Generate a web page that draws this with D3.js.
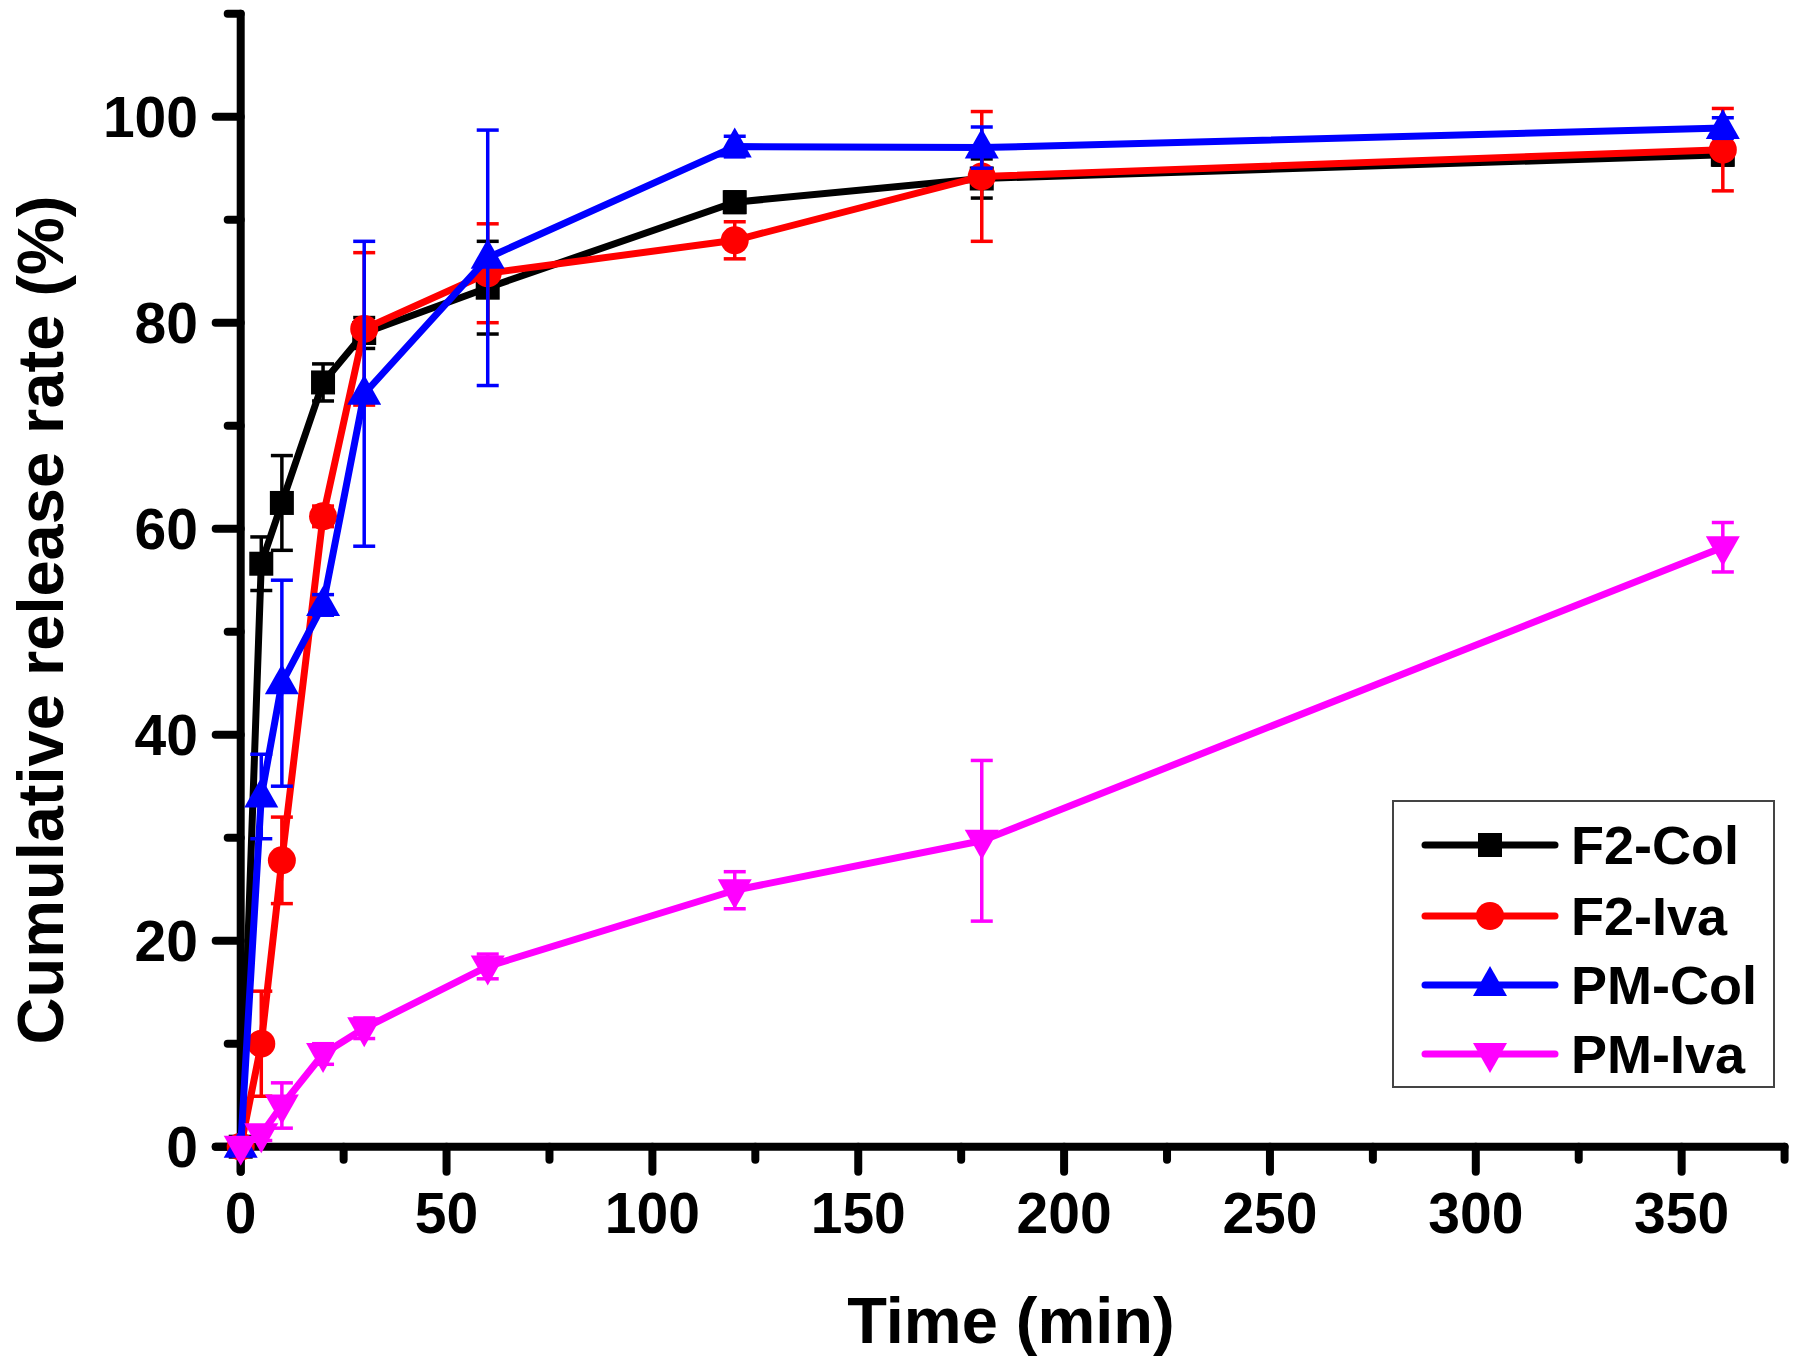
<!DOCTYPE html>
<html><head><meta charset="utf-8">
<script src="https://cdn.jsdelivr.net/npm/d3@7"></script>
<style>body{margin:0;background:#fff}svg{display:block}text{font-family:"Liberation Sans",Arial,sans-serif;font-weight:bold}</style>
</head><body>
<script>
const times = [0, 5, 10, 20, 30, 60, 120, 180, 360];
const seriesNames = ["F2-Col", "F2-Iva", "PM-Col", "PM-Iva"];
const f2Col = [0, 56.6, 62.5, 74.2, 79.0, 83.4, 91.7, 94.0, 96.3];
const f2ColErr = [0, 2.6, 4.6, 1.8, 1.5, 4.5, 1.0, 1.9, 1.0];
const f2Iva = [0, 10.0, 27.8, 61.2, 79.4, 84.8, 88.0, 94.2, 96.8];
const f2IvaErr = [0, 5.1, 4.2, 1.0, 7.4, 4.8, 1.8, 6.3, 4.0];
const pmCol = [0, 34.0, 45.0, 52.6, 73.1, 86.3, 97.1, 97.0, 98.9];
const pmColErr = [0, 4.1, 10.0, 1.0, 14.8, 12.4, 1.0, 2.0, 1.0];
const pmIva = [0, 1.2, 4.0, 9.0, 11.5, 17.5, 24.9, 29.7, 58.2];
const pmIvaErr = [0, 0.6, 2.2, 1.0, 1.0, 1.2, 1.8, 7.8, 2.4];
const xTicks = [0, 50, 100, 150, 200, 250, 300, 350];
const yTicks = [0, 20, 40, 60, 80, 100];

const W = 1800, H = 1367;
const svg = d3.select("body").append("svg").attr("width", W).attr("height", H);
const x = d3.scaleLinear().domain([0, 375]).range([240.7, 240.7 + 375 * 4.117]);
const y = d3.scaleLinear().domain([0, 110]).range([1146.7, 1146.7 - 110 * 10.3]);

const colors = ["#000000", "#ff0000", "#0000ff", "#ff00ff"];
const shapes = ["square", "circle", "up", "down"];
const vals = [f2Col, f2Iva, pmCol, pmIva];
const errs = [f2ColErr, f2IvaErr, pmColErr, pmIvaErr];

function marker(g, shape, cx, cy, color) {
  if (shape === "square") g.append("rect").attr("x", cx - 12).attr("y", cy - 12).attr("width", 24).attr("height", 24).attr("fill", color);
  else if (shape === "circle") g.append("circle").attr("cx", cx).attr("cy", cy).attr("r", 14).attr("fill", color);
  else if (shape === "up") g.append("path").attr("d", `M${cx},${cy - 19}L${cx + 17},${cy + 11}L${cx - 17},${cy + 11}Z`).attr("fill", color);
  else g.append("path").attr("d", `M${cx},${cy + 19}L${cx + 17},${cy - 11}L${cx - 17},${cy - 11}Z`).attr("fill", color);
}

// axes
const axisW = 8;
const yMinor = d3.range(10, 111, 20);
const xMinor = d3.range(25, 376, 50);
const ax = svg.append("g");
ax.append("line").attr("x1", x(0) - 25).attr("x2", x(375)).attr("y1", y(0)).attr("y2", y(0)).attr("stroke", "#000").attr("stroke-width", axisW).attr("stroke-linecap", "round");
ax.append("line").attr("x1", x(0)).attr("x2", x(0)).attr("y1", y(0) + 25).attr("y2", y(110)).attr("stroke", "#000").attr("stroke-width", axisW).attr("stroke-linecap", "round");
yTicks.forEach(t => ax.append("line").attr("x1", x(0) - 25).attr("x2", x(0)).attr("y1", y(t)).attr("y2", y(t)).attr("stroke", "#000").attr("stroke-width", axisW).attr("stroke-linecap", "round"));
yMinor.forEach(t => ax.append("line").attr("x1", x(0) - 13).attr("x2", x(0)).attr("y1", y(t)).attr("y2", y(t)).attr("stroke", "#000").attr("stroke-width", axisW).attr("stroke-linecap", "round"));
xTicks.forEach(t => ax.append("line").attr("x1", x(t)).attr("x2", x(t)).attr("y1", y(0)).attr("y2", y(0) + 25).attr("stroke", "#000").attr("stroke-width", axisW).attr("stroke-linecap", "round"));
xMinor.forEach(t => ax.append("line").attr("x1", x(t)).attr("x2", x(t)).attr("y1", y(0)).attr("y2", y(0) + 13).attr("stroke", "#000").attr("stroke-width", axisW).attr("stroke-linecap", "round"));
yTicks.forEach(t => ax.append("text").attr("x", 198).attr("y", y(t) + 20).attr("text-anchor", "end").attr("font-size", 57).text(t));
xTicks.forEach(t => ax.append("text").attr("x", x(t)).attr("y", 1233).attr("text-anchor", "middle").attr("font-size", 57).text(t));

svg.append("text").attr("x", 1011).attr("y", 1343).attr("text-anchor", "middle").attr("font-size", 65).text("Time (min)");
svg.append("text").attr("transform", "translate(63,620) rotate(-90)").attr("text-anchor", "middle").attr("font-size", 65).text("Cumulative release rate (%)");

// series
const line = d3.line().x((d, i) => x(times[i])).y(d => y(d));
vals.forEach((v, s) => {
  const g = svg.append("g");
  g.append("path").attr("d", line(v)).attr("fill", "none").attr("stroke", colors[s]).attr("stroke-width", 7).attr("stroke-linejoin", "round");
  v.forEach((d, i) => {
    const e = errs[s][i];
    if (e > 0) {
      const cx = x(times[i]);
      g.append("line").attr("x1", cx).attr("x2", cx).attr("y1", y(d - e)).attr("y2", y(d + e)).attr("stroke", colors[s]).attr("stroke-width", 3.5);
      [d - e, d + e].forEach(c => g.append("line").attr("x1", cx - 11).attr("x2", cx + 11).attr("y1", y(c)).attr("y2", y(c)).attr("stroke", colors[s]).attr("stroke-width", 3.5));
    }
    marker(g, shapes[s], x(times[i]), y(d), colors[s]);
  });
});

// legend
const lg = svg.append("g");
lg.append("rect").attr("x", 1393).attr("y", 801).attr("width", 381).attr("height", 286).attr("fill", "#fff").attr("stroke", "#444").attr("stroke-width", 2);
const rowY = [845, 916, 985, 1054];
seriesNames.forEach((n, s) => {
  lg.append("line").attr("x1", 1425).attr("x2", 1555).attr("y1", rowY[s]).attr("y2", rowY[s]).attr("stroke", colors[s]).attr("stroke-width", 7).attr("stroke-linecap", "round");
  marker(lg, shapes[s], 1490, rowY[s], colors[s]);
  lg.append("text").attr("x", 1571).attr("y", rowY[s] + 19).attr("font-size", 54).text(n);
});
</script>
</body></html>
